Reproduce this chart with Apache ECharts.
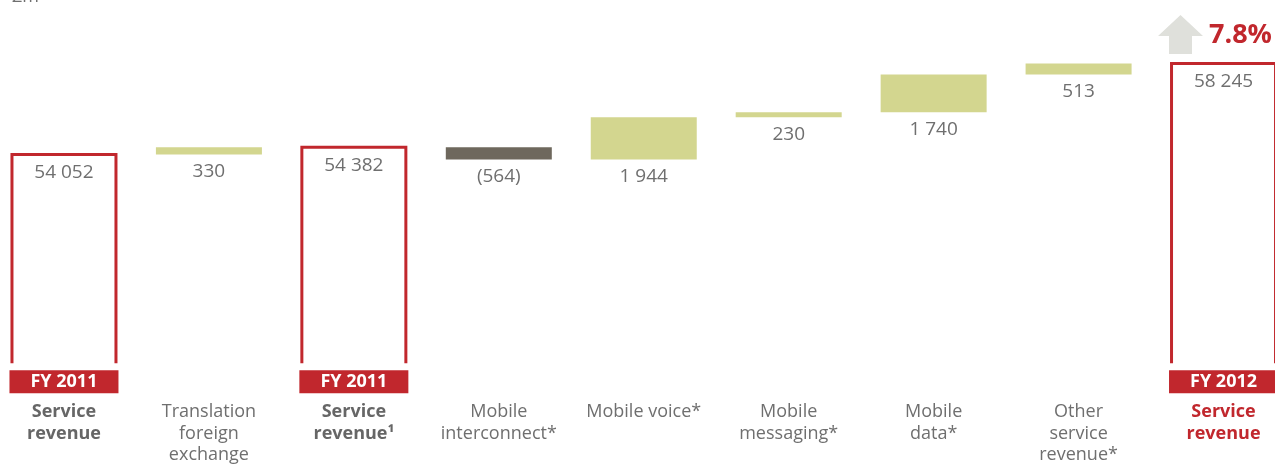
<!DOCTYPE html>
<html>
<head>
<meta charset="utf-8">
<title>Service revenue bridge</title>
<script src="https://cdn.jsdelivr.net/npm/echarts@6/dist/echarts.min.js"></script>
<style>
    html, body { margin: 0; padding: 0; background: #ffffff; overflow: hidden; }
    /* the first and last columns run past the picture edges, so the canvas is a bit wider than the window */
    #bridge-chart { position: absolute; left: -9px; top: 0; width: 1305px; height: 464px; }
</style>
</head>
<body>
<div id="bridge-chart"></div>
<script>
// £m
const categories = [
    'FY 2011 service revenue',
    'Translation foreign exchange',
    'FY 2011 service revenue (rebased)',
    'Mobile interconnect*',
    'Mobile voice*',
    'Mobile messaging*',
    'Mobile data*',
    'Other service revenue*',
    'FY 2012 service revenue'
];
const labelLines = [
    ['Service', 'revenue'],
    ['Translation', 'foreign', 'exchange'],
    ['Service', 'revenue\u00b9'],
    ['Mobile', 'interconnect*'],
    ['Mobile voice*'],
    ['Mobile', 'messaging*'],
    ['Mobile', 'data*'],
    ['Other', 'service', 'revenue*'],
    ['Service', 'revenue']
];
const yearTags = ['FY 2011', null, 'FY 2011', null, null, null, null, null, 'FY 2012'];
const totals = [54052, null, 54382, null, null, null, null, null, 58245];
const changes = [null, 330, null, -564, 1944, 230, 1740, 513, null];
const growthText = '7.8%';

const RED = '#c1272d';
const GREEN = '#d3d68f';
const DARK = '#6e685d';
const TEXT_GREY = '#6f6f6f';
const FONT = '"Open Sans", "DejaVu Sans", sans-serif';
const BAR_WIDTH = 106;
const BOX_WIDTH = 104;
const SHIFT = 9; // canvas starts 9px left of the window

// truncated value axis (the picture does not start at zero)
const Y_MIN = 44423;
const Y_MAX = 60247;

function formatAmount(v) {
    let s = String(Math.abs(v)).replace(/\B(?=(\d{3})+(?!\d))/g, ' ');
    return v < 0 ? '(' + s + ')' : s;
}

// floating part of each change bar sits on the running total
let running = 0;
let baseData = [];
let changeData = [];
categories.forEach(function (c, i) {
    if (totals[i] !== null) {
        running = totals[i];
        baseData.push(null);
        changeData.push(null);
    } else {
        let d = changes[i];
        baseData.push(Math.min(running, running + d));
        changeData.push({value: Math.abs(d), itemStyle: {color: d < 0 ? DARK : GREEN}});
        running += d;
    }
});

let boxData = [];
totals.forEach(function (v, i) {
    if (v !== null) {
        boxData.push([i, v]);
    }
});

let bridge_chart = echarts.init(document.getElementById('bridge-chart'));

let bridge_options = {
    animation: false,
    textStyle: {fontFamily: FONT},
    grid: {left: 0.5, width: 1304.5, top: 20, height: 344},
    xAxis: {
        type: 'category',
        data: categories,
        axisLine: {show: false},
        axisTick: {show: false},
        axisLabel: {
            interval: 0,
            margin: 7,
            formatter: function (value, index) {
                let last = index === categories.length - 1;
                let style = yearTags[index] ? (last ? 'hl' : 'b') : 'n';
                let lines = labelLines[index].map(function (l) {
                    return '{' + style + '|' + l + '}';
                });
                let head = yearTags[index]
                    ? '{fy|' + yearTags[index] + '}\n{gap|}'
                    : '{sp|}';
                return head + '\n' + lines.join('\n');
            },
            rich: {
                fy: {
                    backgroundColor: RED, color: '#ffffff', fontFamily: FONT,
                    fontWeight: 'bold', fontSize: 18, width: 109, height: 23,
                    lineHeight: 23, align: 'center'
                },
                gap: {height: 8, lineHeight: 8},
                sp: {height: 31, lineHeight: 31},
                n: {color: TEXT_GREY, fontFamily: FONT, fontSize: 18, lineHeight: 21.5, align: 'center'},
                b: {color: '#666666', fontFamily: FONT, fontSize: 18, fontWeight: 'bold', lineHeight: 21.5, align: 'center'},
                hl: {color: RED, fontFamily: FONT, fontSize: 18, fontWeight: 'bold', lineHeight: 21.5, align: 'center'}
            }
        }
    },
    yAxis: {
        type: 'value',
        show: false,
        min: Y_MIN,
        max: Y_MAX
    },
    series: [
        {
            name: 'base',
            type: 'bar',
            stack: 'bridge',
            barWidth: BAR_WIDTH,
            barGap: '-100%',
            itemStyle: {color: 'transparent'},
            silent: true,
            data: baseData
        },
        {
            name: 'change',
            type: 'bar',
            stack: 'bridge',
            barWidth: BAR_WIDTH,
            barGap: '-100%',
            label: {
                show: true,
                position: 'bottom',
                distance: 7,
                color: TEXT_GREY,
                fontFamily: FONT,
                fontSize: 19,
                lineHeight: 20,
                formatter: function (p) {
                    return formatAmount(changes[p.dataIndex]);
                }
            },
            data: changeData
        },
        {
            name: 'total',
            type: 'bar',
            barWidth: BAR_WIDTH,
            barGap: '-100%',
            itemStyle: {color: 'transparent'},
            label: {
                show: true,
                position: 'insideTop',
                distance: 8,
                color: TEXT_GREY,
                fontFamily: FONT,
                fontSize: 19,
                lineHeight: 20,
                formatter: function (p) {
                    return formatAmount(p.value);
                }
            },
            data: totals
        },
        {
            // open-bottomed outline round each total
            name: 'total outline',
            type: 'custom',
            silent: true,
            renderItem: function (params, api) {
                let top = api.coord([api.value(0), api.value(1)]);
                let bottom = params.coordSys.y + params.coordSys.height;
                let half = BOX_WIDTH / 2;
                return {
                    type: 'polyline',
                    shape: {
                        points: [
                            [top[0] - half, bottom],
                            [top[0] - half, top[1]],
                            [top[0] + half, top[1]],
                            [top[0] + half, bottom]
                        ]
                    },
                    style: {stroke: RED, lineWidth: 3, fill: null}
                };
            },
            data: boxData
        }
    ],
    graphic: [
        {
            type: 'text',
            left: 12 + SHIFT,
            top: -12,
            style: {text: '\u00a3m', fill: TEXT_GREY, font: '18px ' + FONT}
        },
        {
            type: 'polygon',
            shape: {
                points: [[1180.5, 15], [1203, 36], [1192, 36], [1192, 54], [1169, 54], [1169, 36], [1158, 36]]
                    .map(function (p) { return [p[0] + SHIFT, p[1]]; })
            },
            style: {fill: '#dfe0db'}
        },
        {
            type: 'text',
            left: 1209 + SHIFT,
            top: 22,
            style: {text: growthText, fill: RED, font: 'bold 27px ' + FONT}
        }
    ]
};

bridge_chart.setOption(bridge_options);

window.addEventListener('resize', function () {
    bridge_chart.resize();
});
</script>
</body>
</html>
